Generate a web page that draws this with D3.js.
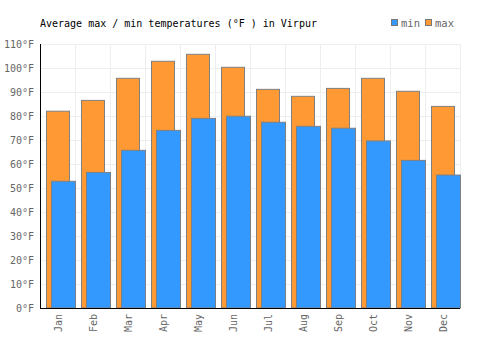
<!DOCTYPE html>
<html>
<head>
<meta charset="utf-8">
<script src="https://cdn.jsdelivr.net/npm/d3@7"></script>
<style>
  body { margin: 0; background: #fff; }
  text { font-family: "DejaVu Sans Mono", monospace; }
</style>
</head>
<body>
<div id="chart"></div>
<script>
// Chart data
const months = ['Jan', 'Feb', 'Mar', 'Apr', 'May', 'Jun', 'Jul', 'Aug', 'Sep', 'Oct', 'Nov', 'Dec'];
const maxTemps = [82, 86.5, 95.7, 102.8, 105.7, 100.3, 91.1, 88.2, 91.5, 95.7, 90.3, 84];
const minTemps = [52.8, 56.5, 65.7, 74, 79, 79.9, 77.4, 75.7, 74.9, 69.6, 61.5, 55.4];
const yTicks = [0, 10, 20, 30, 40, 50, 60, 70, 80, 90, 100, 110];

const width = 500, height = 350;
const margin = {top: 44, right: 40, bottom: 42, left: 40};
const innerW = width - margin.left - margin.right;
const innerH = height - margin.top - margin.bottom;

const svg = d3.select('#chart').append('svg')
    .attr('width', width)
    .attr('height', height);

// Title
svg.append('text')
    .attr('x', 40)
    .attr('y', 27)
    .attr('font-size', 10)
    .attr('fill', '#000')
    .text('Average max / min temperatures (°F ) in Virpur');

// Legend
const legend = [{label: 'min', color: '#3399ff'}, {label: 'max', color: '#ff9933'}];
const lg = svg.append('g').attr('transform', 'translate(391,19.5)');
legend.forEach((d, i) => {
  const g = lg.append('g').attr('transform', `translate(${i * 34},0)`);
  g.append('rect')
      .attr('x', 0.5).attr('y', 0)
      .attr('width', 6).attr('height', 6)
      .attr('fill', d.color)
      .attr('stroke', '#777');
  g.append('text')
      .attr('x', 10).attr('y', 7)
      .attr('font-size', 10.5)
      .attr('fill', '#666')
      .text(d.label);
});

const chart = svg.append('g')
    .attr('transform', `translate(${margin.left},${margin.top})`);

const x = d3.scaleBand().domain(months).range([0, innerW]);
const y = d3.scaleLinear().domain([0, 110]).range([innerH, 0]);

// Grid lines
chart.append('g')
    .selectAll('line.h')
    .data(yTicks)
    .join('line')
    .attr('x1', 0).attr('x2', innerW)
    .attr('y1', d => Math.round(y(d)) + 0.5)
    .attr('y2', d => Math.round(y(d)) + 0.5)
    .attr('stroke', '#eeeeee');

chart.append('g')
    .selectAll('line.v')
    .data(months.map((m, i) => i + 1))
    .join('line')
    .attr('x1', d => Math.round(d * x.bandwidth()) + 0.5)
    .attr('x2', d => Math.round(d * x.bandwidth()) + 0.5)
    .attr('y1', 0).attr('y2', innerH)
    .attr('stroke', '#eeeeee');

// Max bars (behind)
chart.append('g')
    .selectAll('rect')
    .data(months)
    .join('rect')
    .attr('x', d => x(d) + 6.5)
    .attr('width', 23)
    .attr('y', (d, i) => y(maxTemps[i]))
    .attr('height', (d, i) => innerH - y(maxTemps[i]))
    .attr('fill', '#ff9933')
    .attr('stroke', '#808080')
    .attr('stroke-width', 1);

// Min bars (front)
chart.append('g')
    .selectAll('rect')
    .data(months)
    .join('rect')
    .attr('x', d => x(d) + 11.5)
    .attr('width', 24)
    .attr('y', (d, i) => y(minTemps[i]))
    .attr('height', (d, i) => innerH - y(minTemps[i]))
    .attr('fill', '#3399ff')
    .attr('stroke', '#808080')
    .attr('stroke-width', 1);

// Y axis
const yAxis = d3.axisLeft(y)
    .tickValues(yTicks)
    .tickSize(0)
    .tickPadding(6)
    .tickFormat(d => d + '°F');

chart.append('g')
    .attr('class', 'y-axis')
    .call(yAxis)
    .call(g => g.select('.domain').remove())
    .call(g => g.selectAll('text')
        .attr('font-family', '"DejaVu Sans Mono", monospace')
        .attr('font-size', 10)
        .attr('fill', '#666'));

// X axis
const xAxis = d3.axisBottom(x).tickSize(0).tickPadding(0);
chart.append('g')
    .attr('transform', `translate(0,${innerH})`)
    .call(xAxis)
    .call(g => g.select('.domain').remove())
    .call(g => g.selectAll('text')
        .attr('font-family', '"DejaVu Sans Mono", monospace')
        .attr('font-size', 10)
        .attr('fill', '#666')
        .attr('text-anchor', 'end')
        .attr('dy', null)
        .attr('transform', 'translate(4,6) rotate(-90)'));

// Axis lines
chart.append('line')
    .attr('x1', 0.5).attr('x2', 0.5)
    .attr('y1', 0).attr('y2', innerH)
    .attr('stroke', '#000');
chart.append('line')
    .attr('x1', 0).attr('x2', innerW)
    .attr('y1', innerH + 0.5).attr('y2', innerH + 0.5)
    .attr('stroke', '#000');
</script>
</body>
</html>
